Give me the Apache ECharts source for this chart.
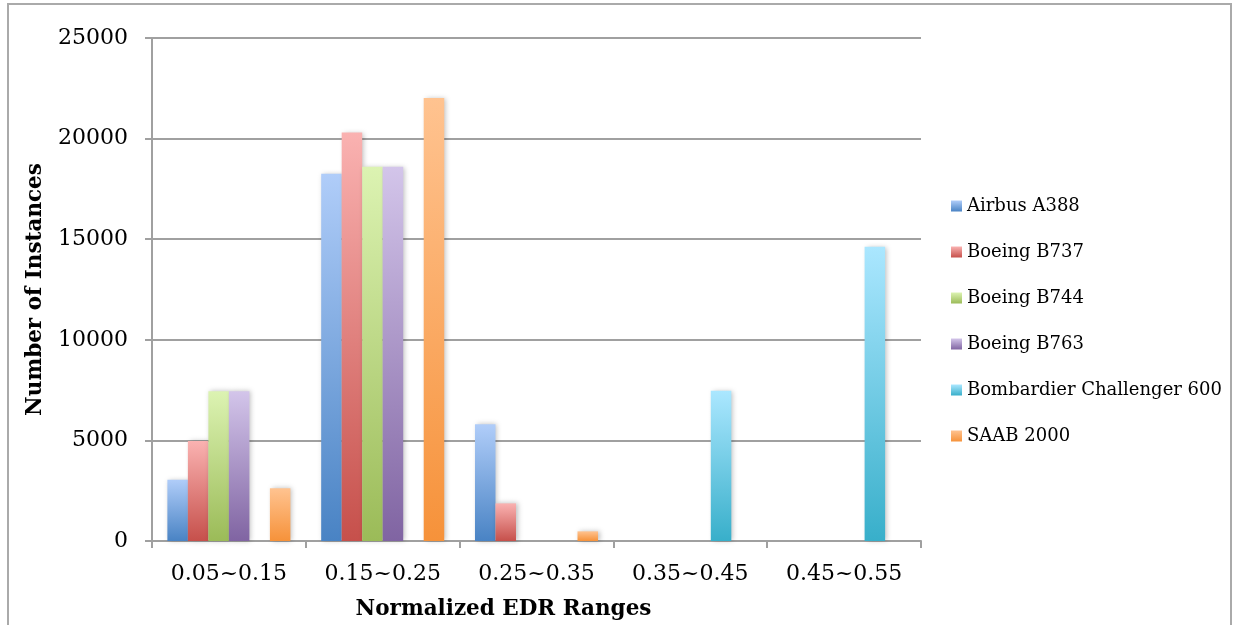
<!DOCTYPE html>
<html>
<head>
<meta charset="utf-8">
<script src="https://cdn.jsdelivr.net/npm/echarts@6/dist/echarts.min.js"></script>
<style>html,body{margin:0;padding:0;background:#fff;}#chart{width:1235px;height:625px;}</style>
</head>
<body>
<div id="chart"></div>
<script>
const categories = ['0.05~0.15', '0.15~0.25', '0.25~0.35', '0.35~0.45', '0.45~0.55'];
const seriesNames = ['Airbus A388', 'Boeing B737', 'Boeing B744', 'Boeing B763', 'Bombardier Challenger 600', 'SAAB 2000'];
const airbusA388 = [3050, 18250, 5800, 0, 0];
const boeingB737 = [4970, 20300, 1870, 0, 0];
const boeingB744 = [7440, 18600, 0, 0, 0];
const boeingB763 = [7440, 18600, 0, 0, 0];
const bombardierCL600 = [0, 0, 0, 7470, 14630];
const saab2000 = [2620, 22020, 480, 0, 0];
const yTicks = [0, 5000, 10000, 15000, 20000, 25000];

const seriesValues = [airbusA388, boeingB737, boeingB744, boeingB763, bombardierCL600, saab2000];
const gradients = [
  ['#B0CDF9', '#4983C4'],
  ['#FAB2B1', '#C6504B'],
  ['#DCF3B2', '#9BBB58'],
  ['#D3C5EA', '#8064A2'],
  ['#ABE7FF', '#38AFCA'],
  ['#FFC390', '#F6923A']
];
const FONT = 'DejaVu Serif';
const AX = '#a0a0a0';

const chart = echarts.init(document.getElementById('chart'));
chart.setOption({
  animation: false,
  backgroundColor: '#fff',
  graphic: [{
    type: 'rect', shape: { x: 8, y: 4, width: 1223, height: 660 },
    style: { fill: 'none', stroke: '#aaaaaa', lineWidth: 2 }, silent: true, z: -1
  }],
  grid: { left: 152, right: 314, top: 38, bottom: 83, containLabel: false },
  legend: {
    orient: 'vertical', left: 946, top: 191,
    icon: 'rect', itemWidth: 11, itemHeight: 11, itemGap: 26,
    textStyle: { fontFamily: FONT, fontSize: 18, color: '#000', lineHeight: 20 },
    data: seriesNames
  },
  xAxis: {
    type: 'category', data: categories,
    name: 'Normalized EDR Ranges', nameLocation: 'middle', nameGap: 57,
    nameTextStyle: { fontFamily: FONT, fontSize: 21.5, fontWeight: 'bold', color: '#000', padding: [0, 66, 0, 0] },
    axisLine: { lineStyle: { color: AX, width: 2 } },
    axisTick: { show: true, length: 7, lineStyle: { color: AX, width: 2 } },
    axisLabel: { fontFamily: FONT, fontSize: 22, color: '#000', margin: 22 }
  },
  yAxis: {
    type: 'value', min: 0, max: 25000, interval: 5000,
    name: 'Number of Instances', nameLocation: 'middle', nameGap: 106,
    nameTextStyle: { fontFamily: FONT, fontSize: 21.5, fontWeight: 'bold', color: '#000' },
    axisLine: { show: true, lineStyle: { color: AX, width: 2 } },
    axisTick: { show: true, length: 7, lineStyle: { color: AX, width: 2 } },
    axisLabel: { fontFamily: FONT, fontSize: 22, color: '#000', margin: 24,
      formatter: v => (yTicks.includes(v) ? String(v) : '') },
    splitLine: { show: true, lineStyle: { color: AX, width: 2 } }
  },
  series: seriesNames.map((name, i) => ({
    name, type: 'bar', data: seriesValues[i],
    barGap: '0%', barCategoryGap: '20%',
    itemStyle: {
      color: new echarts.graphic.LinearGradient(0, 0, 0, 1, [
        { offset: 0, color: gradients[i][0] },
        { offset: 1, color: gradients[i][1] }
      ]),
      shadowColor: 'rgba(0,0,0,0.25)', shadowBlur: 5, shadowOffsetX: 2, shadowOffsetY: 0
    }
  }))
});
</script>
</body>
</html>
